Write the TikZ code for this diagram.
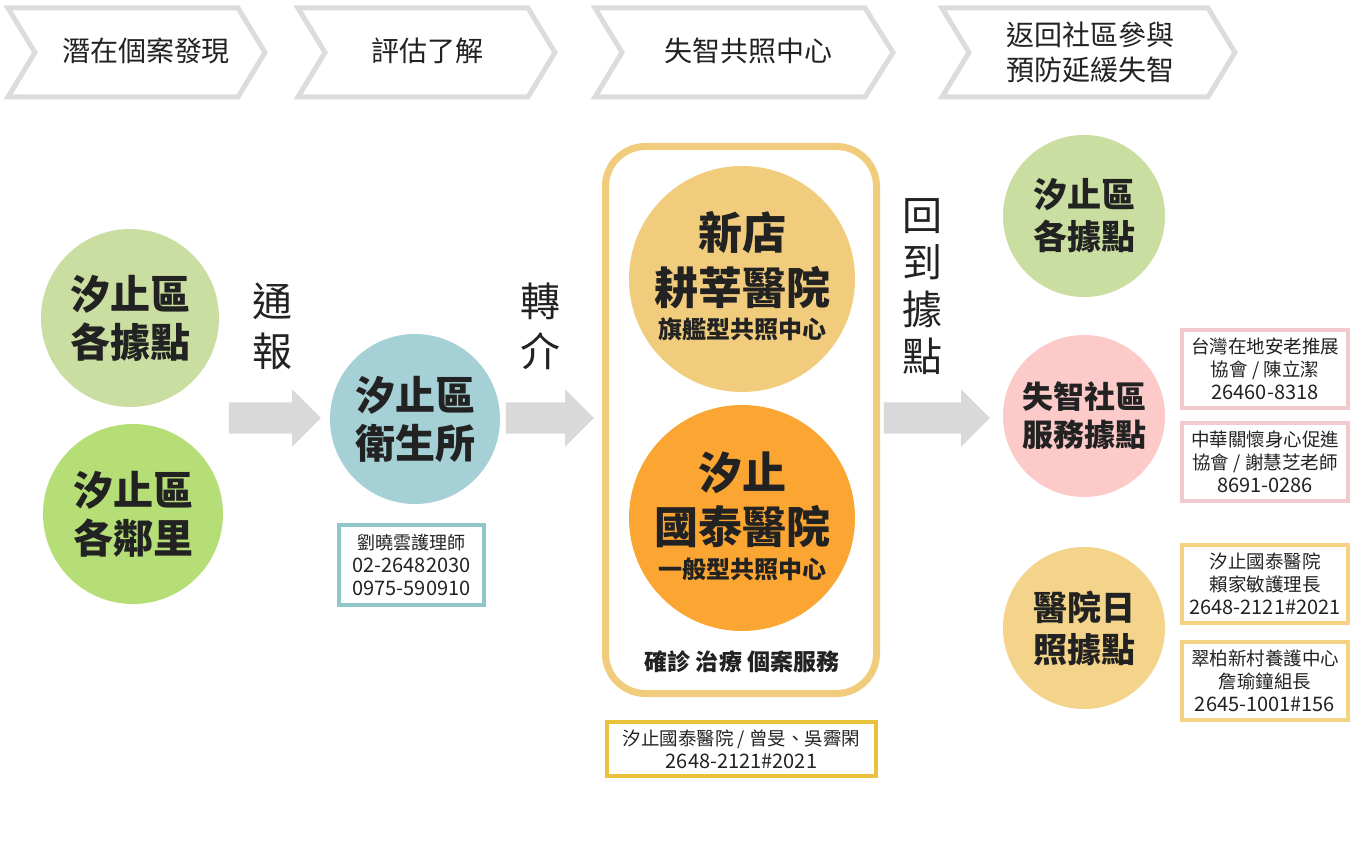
\documentclass[tikz,border=0pt]{standalone}
\usepackage{fontspec}
\setmainfont{Noto Sans CJK TC}
\usetikzlibrary{shapes.arrows}
\definecolor{chevC}{HTML}{DCDCDC}
\definecolor{arrC}{HTML}{D9D9D9}
\definecolor{txtC}{HTML}{222222}
\definecolor{gA}{HTML}{C9DEA0}
\definecolor{gB}{HTML}{B5DF76}
\definecolor{tealC}{HTML}{A5D1D6}
\definecolor{tealB}{HTML}{8EC6CC}
\definecolor{yelC}{HTML}{F0CC7C}
\definecolor{orC}{HTML}{FBA532}
\definecolor{goldB}{HTML}{E8C23A}
\definecolor{pinkC}{HTML}{FDCACA}
\definecolor{pinkB}{HTML}{F2C9CE}
\definecolor{yel2C}{HTML}{F4D48A}
\definecolor{yel2B}{HTML}{F4D382}
\begin{document}
\begin{tikzpicture}[x=1pt,y=-1pt,
  chev/.style={draw=chevC, line width=5, line join=miter},
  hdr/.style={text=txtC, align=center, font=\fontsize{28}{35}\selectfont},
  blob/.style={circle, inner sep=0pt, text=txtC, align=center, font=\bfseries\fontsize{40}{48}\selectfont},
  blobR/.style={circle, inner sep=0pt, minimum size=162, text=txtC, align=center, font=\bfseries\fontsize{34}{42}\selectfont},
  bigline/.style={text=txtC, inner sep=0pt, font=\bfseries\fontsize{44}{50}\selectfont},
  subline/.style={text=txtC, inner sep=0pt, font=\bfseries\fontsize{24}{28}\selectfont},
  vlabel/.style={text=txtC, align=center, inner sep=0pt, font=\fontsize{40}{50}\selectfont},
  infobox/.style={draw, line width=4, fill=white, inner sep=0pt, text=txtC, align=center, font=\fontsize{18.5}{23}\selectfont},
  blockarrow/.style={single arrow, fill=arrC, draw=none, inner xsep=0pt, inner ysep=15.5pt, single arrow head extend=13pt, single arrow tip angle=90}
]
\useasboundingbox (0,0) rectangle (1361,858);
\fill[white] (0,0) rectangle (1361,858);

% header chevrons
\draw[chev] (8,8) -- (238,8) -- (265,52.5) -- (238,97) -- (8,97) -- (35,52.5) -- cycle;
\draw[chev] (298,8) -- (528,8) -- (555,52.5) -- (528,97) -- (298,97) -- (325,52.5) -- cycle;
\draw[chev] (595,8) -- (865,8) -- (893,52.5) -- (865,97) -- (595,97) -- (622,52.5) -- cycle;
\draw[chev] (942,8) -- (1208,8) -- (1235,52.5) -- (1208,97) -- (942,97) -- (969,52.5) -- cycle;
\node[hdr] (h1) at (146,51) {潛在個案發現};
\node[hdr] (h2) at (427,51) {評估了解};
\node[hdr] (h3) at (748,51) {失智共照中心};
\node[hdr] (h4) at (1090,52) {返回社區參與\\預防延緩失智};

% left circles
\node[blob, fill=gA, minimum size=178] (c1) at (130,318) {汐止區\\各據點};
\node[blob, fill=gB, minimum size=180] (c2) at (133,514) {汐止區\\各鄰里};

% arrows
\node[blockarrow, minimum height=92] (a1) at (267,418) {};
\node[blockarrow, minimum height=88] (a2) at (542,418) {};
\node[blockarrow, minimum height=106] (a3) at (929,418) {};
\node[vlabel] (l1) at (272,326) {通\\報};
\node[vlabel] (l2) at (540,326) {轉\\介};
\node[vlabel, font=\fontsize{40}{47}\selectfont] (l3) at (922,287) {回\\到\\據\\點};

% health station
\node[blob, fill=tealC, minimum size=170] (c3) at (415,419) {汐止區\\衛生所};
\node[infobox, draw=tealB, minimum width=145, minimum height=80] (b1) at (411.5,565)
  {{\fontsize{18}{23}\selectfont 劉曉雲護理師}\\{\fontsize{20}{23}\selectfont 02-26482030}\\{\fontsize{20}{23}\selectfont 0975-590910}};

% center group
\node[draw=yelC, line width=7, rounded corners=40, minimum width=271, minimum height=547, inner sep=0pt] (grp) at (741,420) {};
\node[circle, fill=yelC, minimum size=226, inner sep=0pt] (c4) at (742,279) {};
\node[bigline] (t4a) at (742,233) {新店};
\node[bigline] (t4b) at (742,288) {耕莘醫院};
\node[subline] (t4c) at (742,329) {旗艦型共照中心};
\node[circle, fill=orC, minimum size=226, inner sep=0pt] (c5) at (742,518) {};
\node[bigline] (t5a) at (742,473) {汐止};
\node[bigline] (t5b) at (742,527) {國泰醫院};
\node[subline] (t5c) at (742,569) {一般型共照中心};
\node[text=txtC, inner sep=0pt, font=\bfseries\fontsize{23}{28}\selectfont] (t6) at (742,662) {確診 治療 個案服務};
\node[infobox, draw=goldB, minimum width=269, minimum height=54] (b2) at (741.5,749)
  {汐止國泰醫院 / 曾旻、吳霽閑\\{\fontsize{20}{23}\selectfont 2648-2121\#2021}};

% right column
\node[blobR, fill=gA] (c6) at (1084,216) {汐止區\\各據點};
\node[blobR, fill=pinkC, font=\bfseries\fontsize{31}{38}\selectfont] (c7) at (1084,416) {失智社區\\服務據點};
\node[blobR, fill=yel2C] (c8) at (1084,628) {醫院日\\照據點};

\node[infobox, draw=pinkB, minimum width=166, minimum height=78] (b3) at (1265,369)
  {台灣在地安老推展\\協會 / 陳立潔\\{\fontsize{20}{23}\selectfont 26460-8318}};
\node[infobox, draw=pinkB, minimum width=166, minimum height=78] (b4) at (1265,462)
  {中華關懷身心促進\\協會 / 謝慧芝老師\\{\fontsize{20}{23}\selectfont 8691-0286}};
\node[infobox, draw=yel2B, minimum width=166, minimum height=78] (b5) at (1265,584)
  {汐止國泰醫院\\賴家敏護理長\\{\fontsize{20}{23}\selectfont 2648-2121\#2021}};
\node[infobox, draw=yel2B, minimum width=166, minimum height=78] (b6) at (1265,681)
  {翠柏新村養護中心\\詹瑜鐘組長\\{\fontsize{20}{23}\selectfont 2645-1001\#156}};
\end{tikzpicture}
\end{document}
